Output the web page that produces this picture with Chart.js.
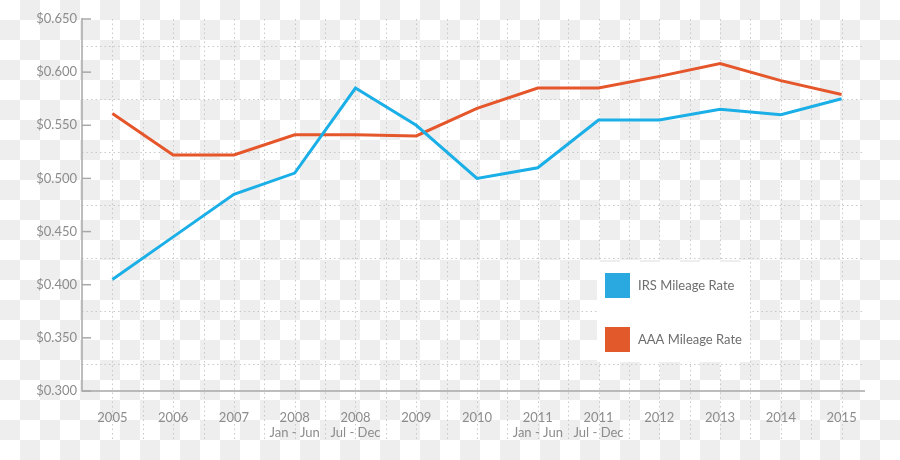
<!DOCTYPE html>
<html>
<head>
<meta charset="utf-8">
<script src="https://cdn.jsdelivr.net/npm/chart.js@4.4.0/dist/chart.umd.min.js"></script>
<style>
  html, body { margin: 0; padding: 0; }
  body {
    width: 900px; height: 460px; overflow: hidden;
    background-color: #ffffff;
    background-image: conic-gradient(#eeeeee 0 25%, #ffffff 0 50%, #eeeeee 0 75%, #ffffff 0);
    background-size: 40px 40px;
  }
  #wrap { position: relative; width: 900px; height: 460px; }
</style>
</head>
<body>
<div id="wrap"><canvas id="c" width="900" height="460"></canvas></div>
<script>
const categories = [
  ["2005"], ["2006"], ["2007"], ["2008", "Jan - Jun"], ["2008", "Jul - Dec"],
  ["2009"], ["2010"], ["2011", "Jan - Jun"], ["2011", "Jul - Dec"],
  ["2012"], ["2013"], ["2014"], ["2015"]
];
const irsRates = [0.405, 0.445, 0.485, 0.505, 0.585, 0.550, 0.500, 0.510, 0.555, 0.555, 0.565, 0.560, 0.575];
const aaaRates = [0.561, 0.522, 0.522, 0.541, 0.541, 0.540, 0.566, 0.585, 0.585, 0.596, 0.608, 0.592, 0.579];
const seriesNames = ["IRS Mileage Rate", "AAA Mileage Rate"];
const yMin = 0.300, yMax = 0.650, yStep = 0.050;

const FONT = "Lato, 'Open Sans', sans-serif";
const TXT = "#8c8c8c";

const gridPlugin = {
  id: 'customGrid',
  beforeDatasetsDraw(chart) {
    const ctx = chart.ctx, x = chart.scales.x, y = chart.scales.y;
    const left = chart.chartArea.left;
    const xEnd = 865;
    ctx.save();
    ctx.strokeStyle = "#c8c8c8";
    ctx.lineWidth = 1;
    ctx.setLineDash([1.5, 3]);
    for (let v = yMin + yStep / 2; v < yMax; v += yStep) {
      const py = Math.round(y.getPixelForValue(v)) + 0.5;
      ctx.beginPath(); ctx.moveTo(left, py); ctx.lineTo(xEnd, py); ctx.stroke();
    }
    const n = categories.length;
    for (let i = 0; i < n; i++) {
      const pts = [x.getPixelForValue(i)];
      if (i < n - 1) pts.push((x.getPixelForValue(i) + x.getPixelForValue(i + 1)) / 2);
      pts.forEach(px => {
        px = Math.round(px) + 0.5;
        ctx.beginPath(); ctx.moveTo(px, y.getPixelForValue(yMax)); ctx.lineTo(px, 440); ctx.stroke();
      });
    }
    ctx.setLineDash([]);
    ctx.strokeStyle = "#a8a8a8";
    ctx.lineWidth = 1.5;
    const bottom = y.getPixelForValue(yMin), top = y.getPixelForValue(yMax);
    ctx.beginPath(); ctx.moveTo(left, top - 1); ctx.lineTo(left, bottom); ctx.lineTo(xEnd, bottom); ctx.stroke();
    for (let v = yMin; v <= yMax + 1e-9; v += yStep) {
      const py = y.getPixelForValue(v);
      ctx.beginPath(); ctx.moveTo(left, py); ctx.lineTo(left + 9, py); ctx.stroke();
    }
    ctx.restore();
  },
  afterDatasetsDraw(chart) {
    const ctx = chart.ctx;
    ctx.save();
    ctx.fillStyle = "#ffffff";
    ctx.fillRect(597, 262, 153, 100);
    chart.data.datasets.forEach((ds, i) => {
      const by = 273 + i * 54;
      ctx.fillStyle = ds.legendColor;
      ctx.fillRect(605, by, 25, 25);
      ctx.fillStyle = "#6e6e6e";
      ctx.font = "13px " + FONT;
      ctx.textBaseline = "middle";
      ctx.textAlign = "left";
      ctx.fillText(ds.label, 638, by + 13);
    });
    ctx.restore();
  }
};

new Chart(document.getElementById('c'), {
  type: 'line',
  data: {
    labels: categories,
    datasets: [
      { label: seriesNames[0], data: irsRates, borderColor: "#1aafe6", legendColor: "#2aa8e0",
        borderWidth: 3, pointRadius: 0, tension: 0, fill: false },
      { label: seriesNames[1], data: aaaRates, borderColor: "#e5562b", legendColor: "#e2592b",
        borderWidth: 3, pointRadius: 0, tension: 0, fill: false }
    ]
  },
  options: {
    responsive: false,
    animation: false,
    layout: { padding: { left: 0, right: 28, top: 19, bottom: 0 } },
    plugins: { legend: { display: false }, tooltip: { enabled: false } },
    scales: {
      x: {
        type: 'category',
        offset: true,
        grid: { display: false, drawTicks: false },
        border: { display: false },
        ticks: { color: TXT, font: { family: FONT, size: 13, lineHeight: 1.1 }, padding: 20, maxRotation: 0, autoSkip: false },
        afterFit: s => { s.height = 69; }
      },
      y: {
        min: yMin, max: yMax,
        grid: { display: false, drawTicks: false },
        border: { display: false },
        ticks: { stepSize: yStep, color: TXT, font: { family: FONT, size: 13 }, padding: 5,
                 callback: v => "$" + Number(v).toFixed(3) },
        afterFit: s => { s.width = 82; }
      }
    }
  },
  plugins: [gridPlugin]
});
</script>
</body>
</html>
